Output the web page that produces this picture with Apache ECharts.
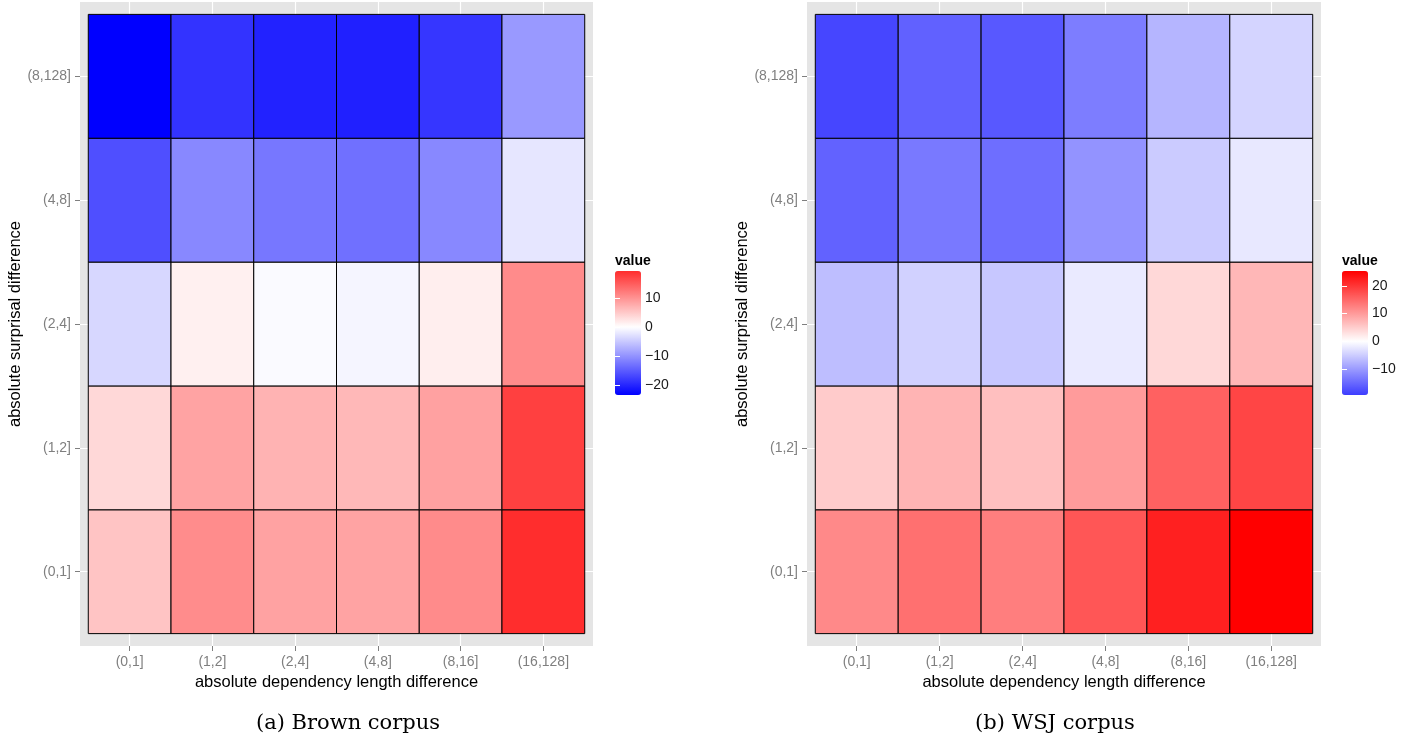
<!DOCTYPE html>
<html>
<head>
<meta charset="utf-8">
<script src="https://cdn.jsdelivr.net/npm/echarts@6/dist/echarts.min.js"></script>
<style>
  body { margin: 0; background: #fff; }
  #main { width: 1413px; height: 740px; }
</style>
</head>
<body>
<div id="main"></div>
<script>
  // categories (y from bottom to top)
  var xCats = ['(0,1]', '(1,2]', '(2,4]', '(4,8]', '(8,16]', '(16,128]'];
  var yCats = ['(0,1]', '(1,2]', '(2,4]', '(4,8]', '(8,128]'];

  // one row per y category, values along xCats
  var brownValues = [
    [5.4, 10.5, 8.5, 8.4, 10.6, 19.3],
    [3.6, 8.4, 7.0, 6.5, 8.6, 17.5],
    [-3.6, 1.4, -0.5, -0.9, 1.6, 10.6],
    [-16.1, -10.9, -12.5, -13.1, -10.9, -2.3],
    [-23.4, -18.7, -20.3, -20.5, -18.5, -9.4]
  ];
  var wsjValues = [
    [11.7, 14.2, 12.9, 16.8, 22.2, 25.4],
    [5.2, 7.5, 6.4, 10.0, 15.8, 18.5],
    [-6.5, -4.6, -5.6, -2.1, 3.9, 7.1],
    [-15.6, -13.4, -14.5, -10.8, -5.2, -2.3],
    [-18.4, -15.7, -16.6, -12.9, -7.4, -4.3]
  ];
  // legend extents
  var brownRange = [-23.4, 19.3];
  var wsjRange = [-19.4, 25.4];
  // legend tick labels
  var brownTicks = [-20, -10, 0, 10];
  var wsjTicks = [-10, 0, 10, 20];

  var tickFont = 'Liberation Sans, Arial, sans-serif';

  function toData(rows) {
    var out = [];
    for (var j = 0; j < rows.length; j++) {
      for (var i = 0; i < rows[j].length; i++) {
        out.push([i + 1, j + 1, rows[j][i]]);
      }
    }
    return out;
  }

  // blue - white - red, white at 0, scaled by max abs value
  function divColor(v, m) {
    var t = Math.min(Math.abs(v) / m, 1);
    var c = Math.round(255 * (1 - t));
    return v < 0 ? 'rgb(' + c + ',' + c + ',255)' : 'rgb(255,' + c + ',' + c + ')';
  }
  function ramp(r) {
    var m = Math.max(-r[0], r[1]);
    var out = [];
    for (var k = 0; k <= 200; k++) {
      out.push(divColor(r[0] + (r[1] - r[0]) * k / 200, m));
    }
    return out;
  }

  function renderTile(params, api) {
    var x = api.value(0), y = api.value(1);
    var p0 = api.coord([x - 0.5, y + 0.5]);
    var p1 = api.coord([x + 0.5, y - 0.5]);
    return {
      type: 'rect',
      shape: {x: p0[0], y: p0[1], width: p1[0] - p0[0], height: p1[1] - p0[1]},
      style: {fill: api.visual('color'), stroke: '#000', lineWidth: 1}
    };
  }

  function panelX(grid) {
    return {
      type: 'value', gridIndex: grid, min: 0.4, max: 6.6,
      axisLine: {show: false},
      axisTick: {show: true, customValues: [1, 2, 3, 4, 5, 6], length: 5, lineStyle: {color: '#7f7f7f'}},
      axisLabel: {
        customValues: [1, 2, 3, 4, 5, 6], margin: 9, color: '#7f7f7f',
        fontSize: 14, fontFamily: tickFont,
        formatter: function (v) { return xCats[Math.round(v) - 1]; }
      },
      splitLine: {show: true, lineStyle: {color: '#fff', width: 1.2}},
      name: 'absolute dependency length difference', nameLocation: 'middle', nameGap: 27,
      nameTextStyle: {color: '#000', fontSize: 16.5, fontFamily: tickFont}
    };
  }
  function panelY(grid) {
    return {
      type: 'value', gridIndex: grid, min: 0.4, max: 5.6,
      axisLine: {show: false},
      axisTick: {show: true, customValues: [1, 2, 3, 4, 5], length: 5, lineStyle: {color: '#7f7f7f'}},
      axisLabel: {
        customValues: [1, 2, 3, 4, 5], margin: 9, color: '#7f7f7f',
        fontSize: 14, fontFamily: tickFont,
        formatter: function (v) { return yCats[Math.round(v) - 1]; }
      },
      splitLine: {show: true, lineStyle: {color: '#fff', width: 1.2}},
      name: 'absolute surprisal difference', nameLocation: 'middle', nameGap: 55,
      nameTextStyle: {color: '#000', fontSize: 16.5, fontFamily: tickFont}
    };
  }
  function legendY(grid, r, ticks, pos, labels) {
    return {
      type: 'value', gridIndex: grid, min: r[0], max: r[1], position: pos, z: 10,
      axisLine: {show: false},
      axisTick: {show: true, inside: true, customValues: ticks, length: 5, lineStyle: {color: '#fff'}},
      axisLabel: {
        show: labels, customValues: ticks, margin: 4, color: '#1a1a1a', fontSize: 14, fontFamily: tickFont,
        formatter: function (v) { return String(v).replace('-', '\u2212'); }
      },
      splitLine: {show: false}
    };
  }
  function hiddenX(grid) {
    return {type: 'value', gridIndex: grid, show: false, splitLine: {show: false}};
  }

  var myChart = echarts.init(document.getElementById('main'));
  myChart.setOption({
    animation: false,
    title: [
      {text: 'value', left: 615, top: 254, padding: 0,
        textStyle: {fontSize: 14, fontWeight: 'bold', color: '#000', fontFamily: tickFont}},
      {text: 'value', left: 1342, top: 254, padding: 0,
        textStyle: {fontSize: 14, fontWeight: 'bold', color: '#000', fontFamily: tickFont}},
      {text: '(a) Brown corpus', left: 348, top: 713, textAlign: 'center', padding: 0,
        textStyle: {fontSize: 21, fontWeight: 'normal', color: '#000', fontFamily: 'DejaVu Serif, serif'}},
      {text: '(b) WSJ corpus', left: 1055, top: 713, textAlign: 'center', padding: 0,
        textStyle: {fontSize: 21, fontWeight: 'normal', color: '#000', fontFamily: 'DejaVu Serif, serif'}}
    ],
    grid: [
      {left: 80, top: 2, width: 513, height: 644, show: true, backgroundColor: '#e5e5e5', borderWidth: 0},
      {left: 807, top: 2, width: 514, height: 644, show: true, backgroundColor: '#e5e5e5', borderWidth: 0},
      {left: 615, top: 271, width: 26, height: 124},
      {left: 1342, top: 271, width: 26, height: 124}
    ],
    xAxis: [panelX(0), panelX(1), hiddenX(2), hiddenX(3)],
    yAxis: [
      panelY(0), panelY(1),
      legendY(2, brownRange, brownTicks, 'right', true),
      legendY(2, brownRange, brownTicks, 'left', false),
      legendY(3, wsjRange, wsjTicks, 'right', true),
      legendY(3, wsjRange, wsjTicks, 'left', false)
    ],
    visualMap: [
      {type: 'continuous', seriesIndex: 0, dimension: 2, min: brownRange[0], max: brownRange[1],
        left: 615, top: 271, itemWidth: 26, itemHeight: 124, padding: 0, calculable: false,
        inRange: {color: ramp(brownRange)}},
      {type: 'continuous', seriesIndex: 1, dimension: 2, min: wsjRange[0], max: wsjRange[1],
        left: 1342, top: 271, itemWidth: 26, itemHeight: 124, padding: 0, calculable: false,
        inRange: {color: ramp(wsjRange)}}
    ],
    series: [
      {type: 'custom', xAxisIndex: 0, yAxisIndex: 0, renderItem: renderTile,
        encode: {x: 0, y: 1}, data: toData(brownValues)},
      {type: 'custom', xAxisIndex: 1, yAxisIndex: 1, renderItem: renderTile,
        encode: {x: 0, y: 1}, data: toData(wsjValues)}
    ]
  });
</script>
</body>
</html>
